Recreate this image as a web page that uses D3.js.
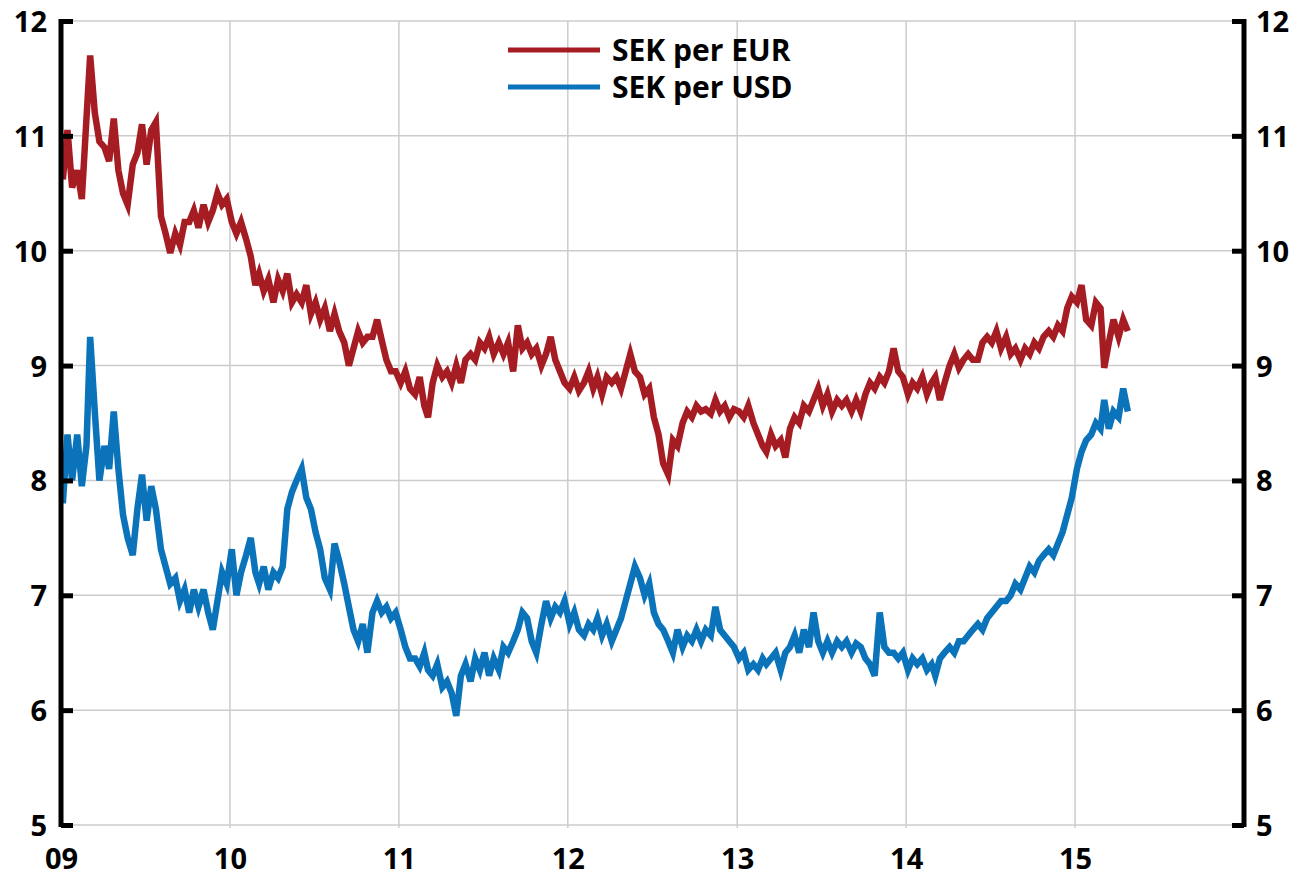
<!DOCTYPE html>
<meta charset="utf-8">
<style>
body { margin: 0; background: #fff; }
svg text { font-family: "Open Sans", "Noto Sans", Arial, sans-serif; font-weight: bold; fill: #000; }
.grid line { stroke: #cccccc; stroke-width: 1.5; }
</style>
<body>
<script src="https://cdn.jsdelivr.net/npm/d3@7/dist/d3.min.js"></script>
<script>

// ten-day readings (5th, 15th, 25th of each month), Jan 2009 - Apr 2015
var startMonth = new Date(2009, 0, 1);
var sampleDays = [5, 15, 25];

var sekEur = [
  // 2009
  10.62, 11.05, 10.55, 10.70, 10.45, 11.15, 11.70, 11.20, 10.95, 10.90, 10.78, 11.15,
  10.70, 10.50, 10.40, 10.75, 10.85, 11.10, 10.75, 11.05, 11.12, 10.30, 10.15, 9.98,
  10.15, 10.05, 10.25, 10.25, 10.35, 10.20, 10.40, 10.25, 10.35, 10.50, 10.40, 10.45,
  // 2010
  10.25, 10.15, 10.25, 10.10, 9.95, 9.70, 9.80, 9.65, 9.75, 9.55, 9.75, 9.65,
  9.80, 9.55, 9.62, 9.55, 9.70, 9.45, 9.55, 9.40, 9.50, 9.30, 9.45, 9.30,
  9.20, 9.00, 9.15, 9.30, 9.20, 9.25, 9.25, 9.40, 9.22, 9.05, 8.95, 8.95,
  // 2011
  8.85, 8.95, 8.80, 8.75, 8.90, 8.65, 8.55, 8.85, 9.00, 8.90, 8.95, 8.85,
  9.00, 8.85, 9.05, 9.10, 9.05, 9.20, 9.15, 9.25, 9.10, 9.20, 9.10, 9.20,
  8.95, 9.35, 9.15, 9.20, 9.10, 9.15, 9.00, 9.10, 9.25, 9.05, 8.95, 8.85,
  // 2012
  8.80, 8.90, 8.78, 8.85, 8.95, 8.80, 8.90, 8.75, 8.90, 8.85, 8.90, 8.80,
  8.95, 9.10, 8.95, 8.90, 8.75, 8.80, 8.55, 8.40, 8.15, 8.05, 8.35, 8.30,
  8.50, 8.60, 8.55, 8.65, 8.60, 8.62, 8.58, 8.70, 8.60, 8.65, 8.55, 8.62,
  // 2013
  8.60, 8.55, 8.65, 8.50, 8.40, 8.30, 8.25, 8.40, 8.30, 8.35, 8.20, 8.45,
  8.55, 8.50, 8.65, 8.60, 8.70, 8.80, 8.65, 8.75, 8.60, 8.70, 8.65, 8.70,
  8.60, 8.70, 8.60, 8.75, 8.85, 8.80, 8.90, 8.85, 8.95, 9.15, 8.95, 8.90,
  // 2014
  8.75, 8.85, 8.80, 8.90, 8.75, 8.85, 8.90, 8.70, 8.85, 9.00, 9.10, 8.98,
  9.05, 9.10, 9.05, 9.05, 9.20, 9.25, 9.20, 9.30, 9.15, 9.25, 9.10, 9.15,
  9.05, 9.15, 9.10, 9.20, 9.15, 9.25, 9.30, 9.25, 9.35, 9.30, 9.50, 9.60,
  // 2015
  9.55, 9.70, 9.40, 9.35, 9.55, 9.50, 8.98, 9.20, 9.40, 9.25, 9.40, 9.30
];

var sekUsd = [
  // 2009
  7.80, 8.40, 8.00, 8.40, 7.95, 8.30, 9.25, 8.60, 8.00, 8.30, 8.10, 8.60,
  8.10, 7.70, 7.50, 7.35, 7.75, 8.05, 7.65, 7.95, 7.75, 7.40, 7.25, 7.10,
  7.15, 6.95, 7.05, 6.85, 7.05, 6.90, 7.05, 6.85, 6.70, 6.95, 7.20, 7.10,
  // 2010
  7.40, 7.00, 7.20, 7.35, 7.50, 7.20, 7.10, 7.25, 7.05, 7.20, 7.15, 7.25,
  7.75, 7.90, 8.00, 8.10, 7.85, 7.75, 7.55, 7.40, 7.15, 7.05, 7.45, 7.30,
  7.10, 6.90, 6.70, 6.60, 6.75, 6.50, 6.85, 6.95, 6.85, 6.90, 6.80, 6.85,
  // 2011
  6.70, 6.55, 6.45, 6.45, 6.38, 6.50, 6.35, 6.30, 6.40, 6.20, 6.25, 6.15,
  5.95, 6.30, 6.40, 6.25, 6.45, 6.35, 6.50, 6.30, 6.45, 6.35, 6.55, 6.50,
  6.60, 6.70, 6.85, 6.80, 6.60, 6.50, 6.75, 6.95, 6.80, 6.90, 6.85, 6.95,
  // 2012
  6.75, 6.85, 6.70, 6.65, 6.75, 6.70, 6.80, 6.65, 6.75, 6.60, 6.70, 6.80,
  6.95, 7.10, 7.25, 7.15, 7.00, 7.10, 6.85, 6.75, 6.70, 6.60, 6.50, 6.70,
  6.55, 6.65, 6.60, 6.70, 6.60, 6.70, 6.65, 6.90, 6.70, 6.65, 6.60, 6.55,
  // 2013
  6.45, 6.50, 6.35, 6.40, 6.35, 6.45, 6.40, 6.45, 6.50, 6.35, 6.50, 6.55,
  6.65, 6.50, 6.70, 6.55, 6.85, 6.60, 6.50, 6.60, 6.50, 6.60, 6.55, 6.60,
  6.50, 6.58, 6.55, 6.45, 6.40, 6.30, 6.85, 6.55, 6.50, 6.50, 6.45, 6.50,
  // 2014
  6.35, 6.45, 6.40, 6.45, 6.35, 6.40, 6.30, 6.45, 6.50, 6.55, 6.50, 6.60,
  6.60, 6.65, 6.70, 6.75, 6.70, 6.80, 6.85, 6.90, 6.95, 6.95, 7.00, 7.10,
  7.05, 7.15, 7.25, 7.20, 7.30, 7.35, 7.40, 7.35, 7.45, 7.55, 7.70, 7.85,
  // 2015
  8.10, 8.25, 8.35, 8.40, 8.50, 8.45, 8.70, 8.45, 8.60, 8.55, 8.80, 8.60
];

var yTicks = [5, 6, 7, 8, 9, 10, 11, 12];
var xTickYears = [2009, 2010, 2011, 2012, 2013, 2014, 2015];
var seriesNames = ["SEK per EUR", "SEK per USD"];
var seriesColors = ["#a51d23", "#0b73ba"];

var W = 1294, H = 877;
var margin = {left: 61, right: 1244, top: 21, bottom: 825};

var dates = sekEur.map(function(d, i) {
  var m = Math.floor(i / 3);
  return new Date(startMonth.getFullYear(), startMonth.getMonth() + m, sampleDays[i % 3]);
});

var x = d3.scaleTime()
    .domain([new Date(2009, 0, 1), new Date(2016, 0, 1)])
    .range([margin.left, margin.right]);
var y = d3.scaleLinear().domain([5, 12]).range([margin.bottom, margin.top]);

var svg = d3.select("body").append("svg")
    .attr("width", W)
    .attr("height", H);

// grid
var grid = svg.append("g").attr("class", "grid");
grid.selectAll(".h").data(yTicks).enter().append("line")
    .attr("x1", margin.left).attr("x2", margin.right)
    .attr("y1", function(d) { return y(d); })
    .attr("y2", function(d) { return y(d); });
grid.selectAll(".v").data(xTickYears.slice(1)).enter().append("line")
    .attr("x1", function(d) { return x(new Date(d, 0, 1)); })
    .attr("x2", function(d) { return x(new Date(d, 0, 1)); })
    .attr("y1", margin.top).attr("y2", margin.bottom + 3);

// lines
var line = d3.line()
    .x(function(d, i) { return x(dates[i]); })
    .y(function(d) { return y(d); });

[sekEur, sekUsd].forEach(function(s, k) {
  svg.append("path")
      .datum(s)
      .attr("fill", "none")
      .attr("stroke", seriesColors[k])
      .attr("stroke-width", 6.5)
      .attr("stroke-linejoin", "miter")
      .attr("d", line);
});

// axes
var yLeft = d3.axisRight(y).tickValues(yTicks).tickSize(12).tickFormat(d3.format("d"));
var yRight = d3.axisLeft(y).tickValues(yTicks).tickSize(12).tickFormat(d3.format("d"));

var gl = svg.append("g").attr("transform", "translate(" + margin.left + ",0)").call(yLeft);
var gr = svg.append("g").attr("transform", "translate(" + margin.right + ",0)").call(yRight);

[gl, gr].forEach(function(g) {
  g.select(".domain").attr("stroke", "#000").attr("stroke-width", 5)
      .attr("d", "M0," + (margin.top - 2) + "V" + (margin.bottom + 2));
  g.selectAll(".tick line").attr("stroke", "#000").attr("stroke-width", 5);
  g.selectAll(".tick text").style("font-size", "29px").attr("dy", "0.36em");
});
gl.selectAll(".tick text").attr("x", -14).attr("text-anchor", "end");
gr.selectAll(".tick text").attr("x", 12).attr("text-anchor", "start");

var xAxis = d3.axisBottom(x)
    .tickValues(xTickYears.map(function(d) { return new Date(d, 0, 1); }))
    .tickSize(0)
    .tickFormat(d3.timeFormat("%y"));
var gx = svg.append("g").attr("transform", "translate(0," + margin.bottom + ")").call(xAxis);
gx.select(".domain").remove();
gx.selectAll(".tick text").attr("y", 23).style("font-size", "29px");

// legend
var legend = svg.append("g");
seriesNames.forEach(function(name, k) {
  var ly = 50 + k * 37;
  legend.append("line")
      .attr("x1", 508).attr("x2", 600)
      .attr("y1", ly).attr("y2", ly)
      .attr("stroke", seriesColors[k])
      .attr("stroke-width", 5);
  legend.append("text")
      .attr("x", 612).attr("y", ly)
      .attr("dy", "0.36em")
      .style("font-size", "30px")
      .text(name);
});

</script>
</body>
